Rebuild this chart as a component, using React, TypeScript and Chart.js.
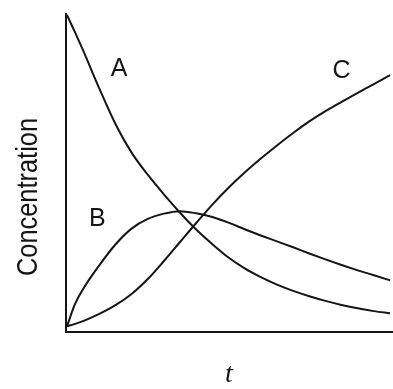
import React, { useEffect, useRef } from 'react';
import { Chart, registerables } from 'chart.js';

Chart.register(...registerables);

// time axis (arbitrary units, 0 .. 1)
const timeValues = [0, 0.025, 0.05, 0.1, 0.15, 0.2, 0.25, 0.3, 0.35, 0.4, 0.45, 0.5, 0.55, 0.6, 0.65, 0.7, 0.75, 0.8, 0.85, 0.9, 0.95, 1.0];
// concentration of A (reactant)
const concA = [1.0, 0.944, 0.886, 0.764, 0.65, 0.558, 0.487, 0.424, 0.365, 0.311, 0.264, 0.221, 0.186, 0.158, 0.134, 0.114, 0.097, 0.082, 0.069, 0.058, 0.049, 0.042];
// concentration of B (intermediate)
const concB = [0, 0.072, 0.12, 0.196, 0.263, 0.314, 0.345, 0.362, 0.37, 0.363, 0.351, 0.333, 0.312, 0.292, 0.273, 0.254, 0.234, 0.215, 0.197, 0.18, 0.164, 0.148];
// concentration of C (product)
const concC = [0, 0.008, 0.017, 0.04, 0.068, 0.104, 0.152, 0.21, 0.271, 0.332, 0.391, 0.445, 0.494, 0.539, 0.581, 0.621, 0.658, 0.691, 0.721, 0.75, 0.778, 0.807];

// curve labels, anchored in data units
const labelNames = ['A', 'B', 'C'];
const labelT = [0.161, 0.094, 0.85];
const labelV = [0.825, 0.344, 0.82];

const yTitle = 'Concentration';
const xTitle = 't';

const INK = '#151515';

const curveLabelPlugin = {
  id: 'curveLabels',
  afterDatasetsDraw(chart: any) {
    const { ctx, chartArea } = chart;
    const xs = chart.scales.x;
    const ys = chart.scales.y;
    ctx.save();
    ctx.fillStyle = INK;
    ctx.font = '25px "Liberation Sans", Arial, sans-serif';
    ctx.textAlign = 'center';
    ctx.textBaseline = 'middle';
    labelNames.forEach((name, i) => {
      ctx.fillText(name, xs.getPixelForValue(labelT[i]), ys.getPixelForValue(labelV[i]));
    });
    ctx.restore();

    // condensed, rotated y-axis title
    ctx.save();
    ctx.fillStyle = INK;
    ctx.font = '30px "Liberation Sans", Arial, sans-serif';
    const w = ctx.measureText(yTitle).width;
    const targetLen = 158;
    ctx.translate(chartArea.left - 29, (chartArea.top + chartArea.bottom) / 2 + 24);
    ctx.rotate(-Math.PI / 2);
    ctx.scale(targetLen / w, 1);
    ctx.textAlign = 'center';
    ctx.textBaseline = 'alphabetic';
    ctx.fillText(yTitle, 0, 0);
    ctx.restore();
  },
};

export default function App() {
  const canvasRef = useRef<HTMLCanvasElement | null>(null);

  useEffect(() => {
    document.body.style.margin = '0';
    const canvas = canvasRef.current;
    if (!canvas) return;

    const mk = (vals: number[]) => timeValues.map((t, i) => ({ x: t, y: vals[i] }));
    const lineStyle = {
      borderColor: INK,
      borderWidth: 2,
      pointRadius: 0,
      fill: false,
      cubicInterpolationMode: 'monotone' as const,
    };

    const chart = new Chart(canvas, {
      type: 'line',
      data: {
        datasets: [
          { label: 'A', data: mk(concA), ...lineStyle },
          { label: 'B', data: mk(concB), ...lineStyle },
          { label: 'C', data: mk(concC), ...lineStyle },
        ],
      },
      options: {
        responsive: false,
        animation: false,
        devicePixelRatio: 1,
        layout: { padding: { left: 66, right: 1, top: 14, bottom: 0 } },
        plugins: {
          legend: { display: false },
          tooltip: { enabled: false },
          title: { display: false },
        },
        scales: {
          x: {
            type: 'linear',
            min: -0.003,
            max: 1.006,
            grid: { display: false, drawTicks: false },
            border: { display: true, color: INK, width: 2 },
            ticks: { display: false },
            title: {
              display: true,
              text: xTitle,
              color: INK,
              font: { family: '"Liberation Serif", "Times New Roman", serif', style: 'italic', size: 28, lineHeight: 1 },
              padding: { top: 29, bottom: 0 },
            },
          },
          y: {
            type: 'linear',
            min: -0.018,
            max: 1.003,
            grid: { display: false, drawTicks: false },
            border: { display: true, color: INK, width: 2 },
            ticks: { display: false },
            title: { display: false },
          },
        },
      },
      plugins: [curveLabelPlugin],
    });

    return () => chart.destroy();
  }, []);

  return (
    <div style={{ width: 393, height: 389, background: '#ffffff' }}>
      <canvas ref={canvasRef} width={393} height={389} style={{ display: 'block' }} />
    </div>
  );
}
